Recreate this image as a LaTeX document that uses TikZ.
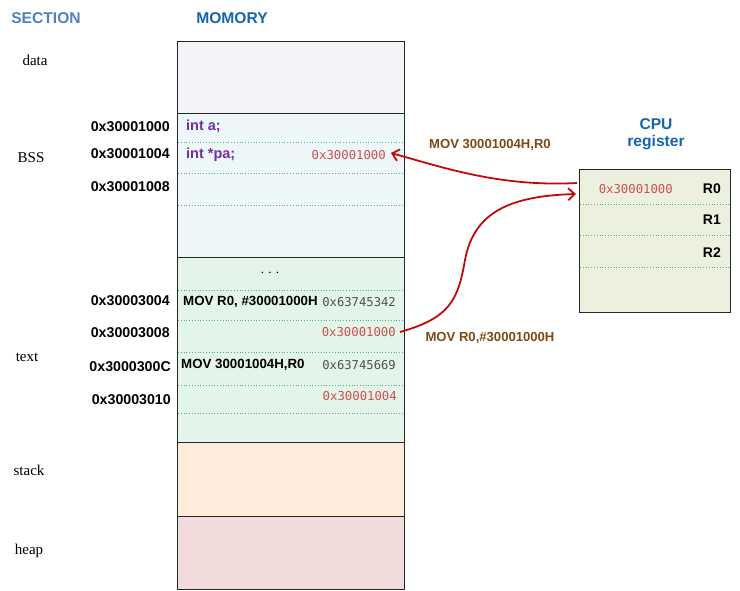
\documentclass[tikz,border=0pt]{standalone}
\usepackage{fontspec}
\setmainfont{Liberation Serif}
\setsansfont{Liberation Sans}
\newfontfamily\monof{DejaVu Sans Mono}
\usetikzlibrary{arrows.meta}
\definecolor{datafill}{RGB}{243,243,248}
\definecolor{bssfill}{RGB}{237,246,249}
\definecolor{textfill}{RGB}{227,244,234}
\definecolor{stackfill}{RGB}{253,235,219}
\definecolor{heapfill}{RGB}{242,220,219}
\definecolor{regfill}{RGB}{235,241,222}
\definecolor{dotgreen}{RGB}{80,175,130}
\definecolor{valred}{RGB}{205,80,77}
\definecolor{arrred}{RGB}{192,10,10}
\definecolor{brownlab}{RGB}{125,72,20}
\definecolor{secblue}{RGB}{79,129,189}
\definecolor{memblue}{RGB}{21,101,174}
\definecolor{purp}{RGB}{112,48,160}
\definecolor{greyval}{RGB}{80,80,80}
\tikzset{
  sect/.style={draw=black!85, line width=0.9pt, inner sep=0pt, outer sep=0pt, minimum width=227pt},
  sep/.style={dotgreen, dotted, line width=0.8pt},
  secname/.style={font=\fontsize{15}{17}\selectfont, anchor=center},
  addr/.style={font=\sffamily\bfseries\fontsize{14.2}{16}\selectfont, anchor=east, inner sep=0pt},
  code/.style={font=\sffamily\bfseries\fontsize{13.3}{15}\selectfont, anchor=west, inner sep=0pt},
  varc/.style={code, font=\sffamily\bfseries\fontsize{14.5}{16}\selectfont, text=purp},
  redval/.style={font=\monof\fontsize{12.3}{14}\selectfont, text=valred, anchor=east, inner sep=0pt},
  greyv/.style={font=\monof\fontsize{12.2}{14}\selectfont, text=greyval, anchor=east, inner sep=0pt},
  reglab/.style={font=\sffamily\bfseries\fontsize{14}{16}\selectfont, anchor=east, inner sep=0pt},
  opl/.style={font=\sffamily\bfseries\fontsize{13.1}{15}\selectfont, text=brownlab, inner sep=0pt},
  arr/.style={arrred, line width=1.8pt, -{Straight Barb[length=6.5pt,width=12pt]}},
  head/.style={font=\sffamily\bfseries\fontsize{15.6}{17}\selectfont, inner sep=0pt}
}
\begin{document}
\begin{tikzpicture}[x=1pt,y=-1pt]
\useasboundingbox (0,0) rectangle (740,590);
% headers
\node[head, text=secblue] (hsec) at (46,18) {SECTION};
\node[head, text=memblue] (hmem) at (232,18) {MOMORY};
% memory sections
\node[sect, fill=datafill, minimum height=72pt] (data) at (290.5,77) {};
\node[sect, fill=bssfill, minimum height=144pt] (bss) at (290.5,185) {};
\node[sect, fill=textfill, minimum height=185pt] (text) at (290.5,349.5) {};
\node[sect, fill=stackfill, minimum height=74pt] (stack) at (290.5,479) {};
\node[sect, fill=heapfill, minimum height=73pt] (heap) at (290.5,552.5) {};
% separators
\foreach \yy in {142,173,205,290,320,352,385,413}
  \draw[sep] (178,\yy) -- (403.5,\yy);
% section names
\node[secname] (ldata) at (35,60) {data};
\node[secname] (lbss) at (31,158) {BSS};
\node[secname] (ltext) at (27,357) {text};
\node[secname] (lstack) at (29,470) {stack};
\node[secname] (lheap) at (29,551) {heap};
% addresses
\node[addr] (a1) at (170,127) {0x30001000};
\node[addr] (a2) at (170,154) {0x30001004};
\node[addr] (a3) at (170,187) {0x30001008};
\node[addr] (a4) at (170,301) {0x30003004};
\node[addr] (a5) at (170,333) {0x30003008};
\node[addr] (a6) at (171,367) {0x3000300C};
\node[addr] (a7) at (171,400) {0x30003010};
% BSS content
\node[varc] (inta) at (186,126) {int a;};
\node[varc] (intpa) at (186,155) {int *pa;};
\node[redval] (pav) at (386,155) {0x30001000};
% text content
\node[font=\fontsize{13}{15}\selectfont] (dots) at (270,273) {.\,\,.\,\,.};
\node[code] (mov1) at (183,302) {MOV R0, \#30001000H};
\node[greyv] (op1) at (396,302) {0x63745342};
\node[redval] (imm1) at (396,332) {0x30001000};
\node[code] (mov2) at (181,365) {MOV 30001004H,R0};
\node[greyv] (op2) at (396,365) {0x63745669};
\node[redval] (imm2) at (397,396) {0x30001004};
% CPU register
\node[head, text=memblue] (cpu) at (656,124) {CPU};
\node[head, text=memblue] (cpur) at (656,142) {register};
\node[sect, minimum width=151pt, minimum height=143pt, fill=regfill] (reg) at (654.5,240.5) {};
\foreach \yy in {204,235,267}
  \draw[sep] (580,\yy) -- (729.5,\yy);
\node[reglab] (r0) at (721,189) {R0};
\node[reglab] (r1) at (721,220) {R1};
\node[reglab] (r2) at (721,253) {R2};
\node[redval] (r0v) at (673,189) {0x30001000};
% operation labels
\node[opl] (op1l) at (490,145) {MOV 30001004H,R0};
\node[opl] (op2l) at (490,338) {MOV R0,\#30001000H};
% arrows
\draw[arr] ([yshift=57.5pt,xshift=-2pt]reg.west) .. controls (500,187) and (445,168) .. ([xshift=5pt,yshift=2pt]pav.east);
\draw[arr] ([xshift=4pt]imm1.east) .. controls (450,318) and (458,300) .. (465,260) .. controls (474,212) and (510,196) .. ([yshift=46.5pt,xshift=-3pt]reg.west);
\end{tikzpicture}
\end{document}
